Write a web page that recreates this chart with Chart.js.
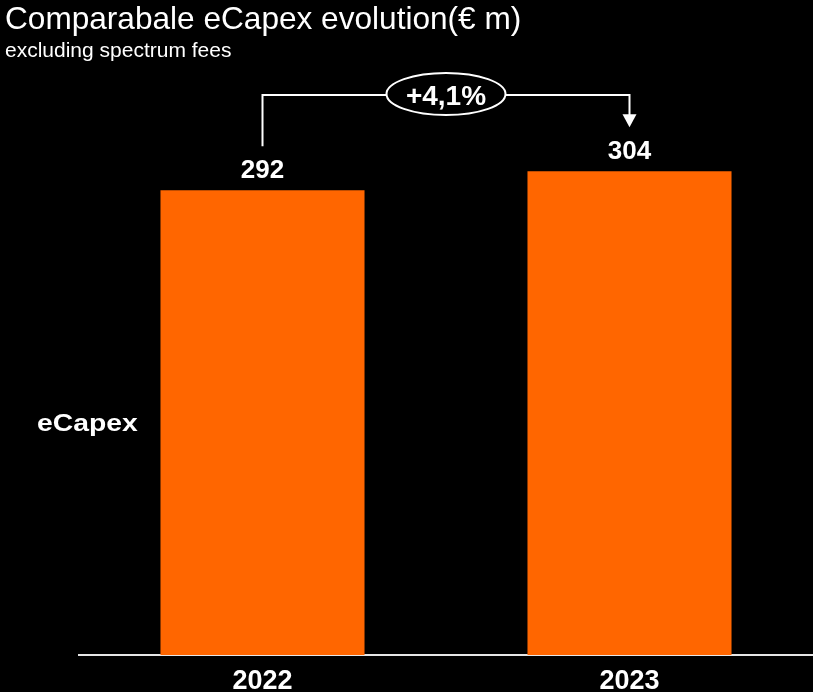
<!DOCTYPE html>
<html>
<head>
<meta charset="utf-8">
<script src="https://cdn.jsdelivr.net/npm/chart.js@4/dist/chart.umd.min.js"></script>
<style>
  html, body {
    margin: 0;
    padding: 0;
    background: #000;
  }
  #container {
    position: relative;
    width: 813px;
    height: 692px;
  }
</style>
</head>
<body>
<div id="container">
  <canvas id="chart" width="813" height="692"></canvas>
</div>
<script>
var TITLE = 'Comparabale eCapex evolution(\u20ac m)';
var SUBTITLE = 'excluding spectrum fees';
var ROW_LABEL = 'eCapex';
var YEARS = ['2022', '2023'];
var ECAPEX = [292, 304];
var CHANGE_LABEL = '+4,1%';

var FONT = '"Liberation Sans", Arial, Helvetica, sans-serif';
var ORANGE = '#ff6600';


// Title, row label, value labels and the growth bracket between the bars.
var annotations = {
  id: 'annotations',
  afterDatasetsDraw: function(chart) {
    var ctx = chart.ctx;
    var bars = chart.getDatasetMeta(0).data;
    ctx.save();
    ctx.fillStyle = '#fff';
    ctx.textAlign = 'left';
    ctx.textBaseline = 'alphabetic';

    ctx.font = '31.6px ' + FONT;
    ctx.fillText(TITLE, 5, 29);
    ctx.font = '21px ' + FONT;
    ctx.fillText(SUBTITLE, 5, 57);

    // The row label is set in a wide cut, so stretch it a little.
    ctx.save();
    ctx.translate(37, 431);
    ctx.scale(1.18, 1);
    ctx.font = 'bold 24px ' + FONT;
    ctx.fillText(ROW_LABEL, 0, 0);
    ctx.restore();

    ctx.textAlign = 'center';
    ctx.font = 'bold 26px ' + FONT;
    for (var i = 0; i < bars.length; i++) {
      ctx.fillText(String(ECAPEX[i]), bars[i].x, bars[i].y - 12);
    }

    // Bracket from the first value label to an arrow over the second.
    var x0 = bars[0].x;
    var x1 = bars[1].x;
    var top = 95;
    var tip = bars[1].y - 44;
    ctx.strokeStyle = '#fff';
    ctx.lineWidth = 2;
    ctx.beginPath();
    ctx.moveTo(x0, bars[0].y - 44);
    ctx.lineTo(x0, top);
    ctx.lineTo(x1, top);
    ctx.lineTo(x1, tip - 12);
    ctx.stroke();
    ctx.beginPath();
    ctx.moveTo(x1 - 7, tip - 13);
    ctx.lineTo(x1 + 7, tip - 13);
    ctx.lineTo(x1, tip);
    ctx.closePath();
    ctx.fill();

    var cx = (x0 + x1) / 2;
    ctx.beginPath();
    ctx.ellipse(cx, 94, 59.5, 21, 0, 0, Math.PI * 2);
    ctx.fillStyle = '#000';
    ctx.fill();
    ctx.stroke();
    ctx.fillStyle = '#fff';
    ctx.font = 'bold 28px ' + FONT;
    ctx.fillText(CHANGE_LABEL, cx, 105);
    ctx.restore();
  }
};


document.addEventListener('DOMContentLoaded', function(e) {
  new Chart(document.getElementById('chart'), {
    type: 'bar',
    data: {
      labels: YEARS,
      datasets: [{
        data: ECAPEX,
        backgroundColor: ORANGE,
        borderWidth: 0,
        categoryPercentage: 1,
        barPercentage: 0.556,
      }],
    },
    options: {
      responsive: false,
      animation: false,
      events: [],
      layout: {
        padding: {top: 98, left: 79, right: 0, bottom: 0},
      },
      plugins: {
        legend: {display: false},
        tooltip: {enabled: false},
      },
      scales: {
        x: {
          grid: {display: false},
          border: {display: true, color: '#e6e6e6', width: 2},
          ticks: {
            color: '#fff',
            padding: 2,
            font: {family: FONT, size: 27, weight: 'bold'},
          },
          afterFit: function(scale) {
            scale.height = 37;
          },
        },
        y: {
          display: false,
          min: 0,
          max: 350,
        },
      },
    },
    plugins: [annotations],
  });
});
</script>
</body>
</html>
